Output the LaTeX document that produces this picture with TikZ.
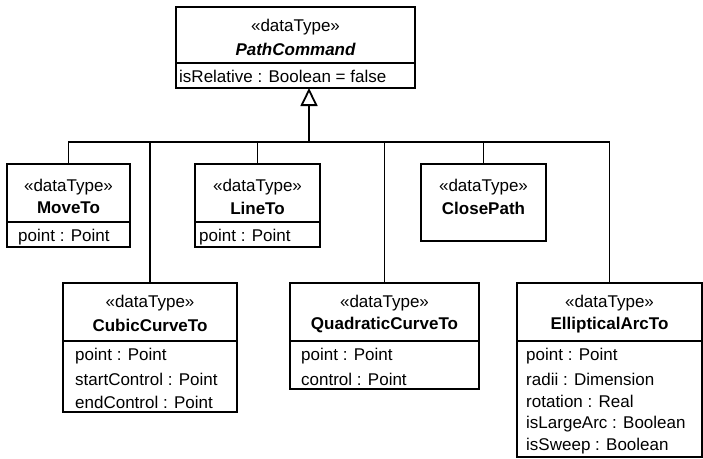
\documentclass[tikz,border=0pt]{standalone}
\usepackage{fontspec}
\setmainfont{Liberation Sans}
\usetikzlibrary{arrows.meta}

\tikzset{
  classbox/.style={draw, line width=1.8pt, anchor=north west, inner sep=0pt, outer sep=0pt},
  stereo/.style={inner sep=0pt, font=\fontsize{17}{20}\selectfont},
  cname/.style={inner sep=0pt, font=\fontsize{17}{20}\selectfont\bfseries},
  attr/.style={inner sep=0pt, anchor=west, font=\fontsize{17}{20}\selectfont},
  compart/.style={line width=1.2pt},
  generalize/.style={line width=1.8pt},
}

\begin{document}
\begin{tikzpicture}[x=1pt, y=-1pt]
\useasboundingbox (0,0) rectangle (703,458);

% abstract parent
\node[classbox, minimum width=239pt, minimum height=81pt] (pathcommand) at (176,7) {};
\node[stereo] (pathcommandstereo) at (295.5,27) {«dataType»};
\node[cname] (pathcommandname) at (295.5,49) {\itshape PathCommand};
\draw[compart] (176,63) -- (415,63);
\node[attr] (pathcommandrel) at (179,76) {isRelative : Boolean = false};

% top row
\node[classbox, minimum width=123pt, minimum height=83pt] (moveto) at (7,164) {};
\node[stereo] (movetostereo) at (68.5,187) {«dataType»};
\node[cname] (movetoname) at (68.5,208) {MoveTo};
\draw[compart] (7,222) -- (130,222);
\node[attr] (movetopoint) at (18,237) {point : Point};

\node[classbox, minimum width=125pt, minimum height=83pt] (lineto) at (195,164) {};
\node[stereo] (linetostereo) at (257.5,187) {«dataType»};
\node[cname] (linetoname) at (257.5,208) {LineTo};
\draw[compart] (195,222) -- (320,222);
\node[attr] (linetopoint) at (199,237) {point : Point};

\node[classbox, minimum width=125pt, minimum height=77pt] (closepath) at (421,164) {};
\node[stereo] (closepathstereo) at (483.5,187) {«dataType»};
\node[cname] (closepathname) at (483.5,208) {ClosePath};

% bottom row
\node[classbox, minimum width=174pt, minimum height=129pt] (cubiccurveto) at (63,283) {};
\node[stereo] (cubiccurvetostereo) at (150,303) {«dataType»};
\node[cname] (cubiccurvetoname) at (150,325) {CubicCurveTo};
\draw[compart] (63,341) -- (237,341);
\node[attr] (cubiccurvetopoint) at (75,356) {point : Point};
\node[attr] (cubiccurvetostart) at (75,379) {startControl : Point};
\node[attr] (cubiccurvetoend) at (75,402) {endControl : Point};

\node[classbox, minimum width=189pt, minimum height=106pt] (quadraticcurveto) at (290,283) {};
\node[stereo] (quadraticcurvetostereo) at (384.5,303) {«dataType»};
\node[cname] (quadraticcurvetoname) at (384.5,325) {QuadraticCurveTo};
\draw[compart] (290,341) -- (479,341);
\node[attr] (quadraticcurvetopoint) at (301,356) {point : Point};
\node[attr] (quadraticcurvetocontrol) at (301,379) {control : Point};

\node[classbox, minimum width=185pt, minimum height=174pt] (ellipticalarcto) at (517,283) {};
\node[stereo] (ellipticalarctostereo) at (609.5,303) {«dataType»};
\node[cname] (ellipticalarctoname) at (609.5,325) {EllipticalArcTo};
\draw[compart] (517,341) -- (702,341);
\node[attr] (ellipticalarctopoint) at (526,356) {point : Point};
\node[attr] (ellipticalarctoradii) at (526,379) {radii : Dimension};
\node[attr] (ellipticalarctorot) at (526,401) {rotation : Real};
\node[attr] (ellipticalarctolarge) at (526,424) {isLargeArc : Boolean};
\node[attr] (ellipticalarctosweep) at (526,446) {isSweep : Boolean};

% generalization tree
\coordinate (bar) at (309,142);
\draw[generalize, -{Triangle[open, length=18pt, width=17pt, line width=1.8pt]}] (bar) -- (bar |- pathcommand.south);
\draw[generalize] (moveto.north) |- (bar) -| (ellipticalarcto.north);
\draw[generalize] (lineto.north) -- (lineto.north |- bar);
\draw[generalize] (closepath.north) -- (closepath.north |- bar);
\draw[generalize] (cubiccurveto.north) -- (cubiccurveto.north |- bar);
\draw[generalize] (quadraticcurveto.north) -- (quadraticcurveto.north |- bar);
\end{tikzpicture}
\end{document}
